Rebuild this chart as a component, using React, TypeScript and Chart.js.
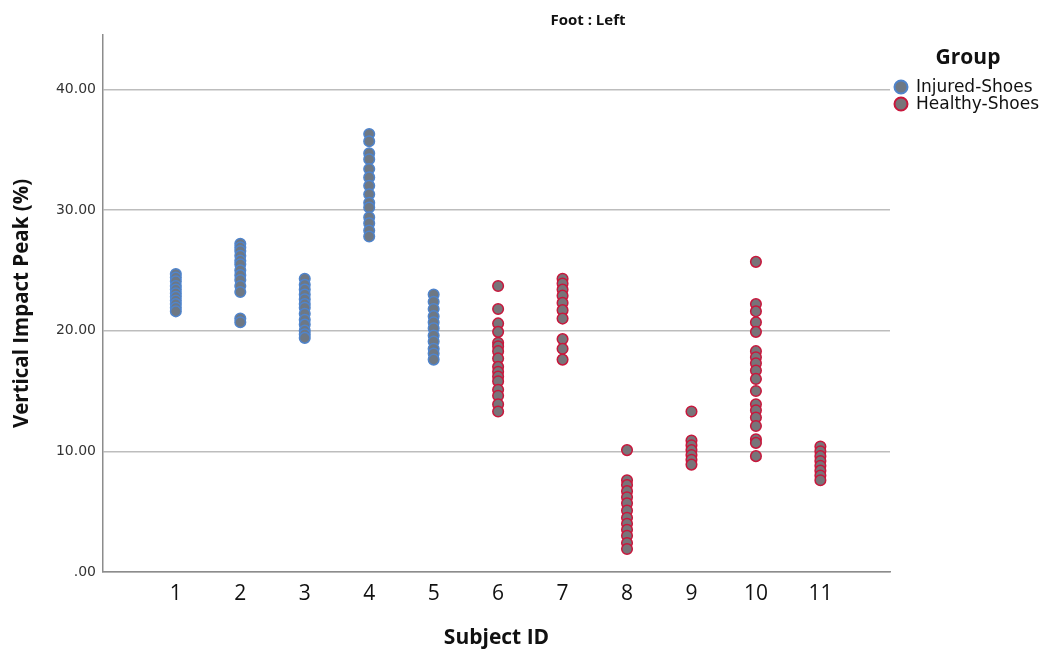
import React, { useEffect, useRef } from 'react';
import { Chart, registerables } from 'chart.js';

Chart.register(...registerables);

// ---------- data ----------
const chartTitle = 'Foot : Left';
const xAxisTitle = 'Subject ID';
const yAxisTitle = 'Vertical Impact Peak (%)';
const legendTitle = 'Group';
const groupNames = ['Injured-Shoes', 'Healthy-Shoes'];

const subjectIds = [1, 2, 3, 4, 5, 6, 7, 8, 9, 10, 11];
const xTickLabels = ['1', '2', '3', '4', '5', '6', '7', '8', '9', '10', '11'];
const yTickValues = [0, 10, 20, 30, 40];
const yTickLabels = ['.00', '10.00', '20.00', '30.00', '40.00'];

const injuredSubjects = [1, 2, 3, 4, 5];
const healthySubjects = [6, 7, 8, 9, 10, 11];

const subject1 = [24.7, 24.4, 24.1, 23.7, 23.4, 23.1, 22.8, 22.5, 22.2, 21.9, 21.6];
const subject2 = [27.2, 26.9, 26.6, 26.2, 25.8, 25.5, 25.0, 24.6, 24.2, 23.7, 23.2, 21.0, 20.7];
const subject3 = [24.3, 23.8, 23.4, 23.0, 22.6, 22.2, 21.9, 21.4, 20.9, 20.5, 20.0, 19.7, 19.4];
const subject4 = [36.3, 35.7, 34.7, 34.2, 33.4, 32.7, 32.0, 31.3, 30.6, 30.2, 29.4, 28.9, 28.3, 27.8];
const subject5 = [23.0, 22.4, 21.8, 21.2, 20.7, 20.2, 19.6, 19.1, 18.5, 18.1, 17.6];
const subject6 = [23.7, 21.8, 20.6, 19.9, 19.0, 18.7, 18.3, 17.7, 17.0, 16.6, 16.2, 15.8, 15.1, 14.6, 13.9, 13.3];
const subject7 = [24.3, 23.9, 23.4, 22.9, 22.3, 21.7, 21.0, 19.3, 18.5, 17.6];
const subject8 = [10.1, 7.6, 7.2, 6.7, 6.2, 5.7, 5.1, 4.5, 4.0, 3.5, 3.0, 2.4, 1.9];
const subject9 = [13.3, 10.9, 10.5, 10.1, 9.7, 9.3, 8.9];
const subject10 = [25.7, 22.2, 21.6, 20.7, 19.9, 18.3, 17.8, 17.3, 16.7, 16.0, 15.0, 13.9, 13.4, 12.8, 12.1, 11.0, 10.7, 9.6];
const subject11 = [10.4, 10.0, 9.6, 9.2, 8.8, 8.4, 8.0, 7.6];

const subjectValues = [subject1, subject2, subject3, subject4, subject5, subject6, subject7, subject8, subject9, subject10, subject11];

// ---------- styles ----------
const injuredFill = '#6e7884';
const injuredBorder = '#4f84cc';
const healthyFill = '#787479';
const healthyBorder = '#c8173c';

const buildPoints = (ids: number[]) =>
  ids.flatMap((id) => subjectValues[subjectIds.indexOf(id)].map((v) => ({ x: id, y: v })));

const overlayPlugin = {
  id: 'overlay',
  afterDraw(chart: any) {
    const ctx = chart.ctx;
    const area = chart.chartArea;
    ctx.save();
    ctx.fillStyle = '#111';
    ctx.textAlign = 'center';
    ctx.textBaseline = 'middle';
    ctx.font = 'bold 15px "Open Sans"';
    ctx.fillText(chartTitle, 588, 21);

    ctx.font = 'bold 21px "Open Sans"';
    ctx.fillText(legendTitle, area.right + 78, 58);

    const fills = [injuredFill, healthyFill];
    const borders = [injuredBorder, healthyBorder];
    groupNames.forEach((name, i) => {
      const y = 87 + i * 17;
      ctx.beginPath();
      ctx.arc(area.right + 11, y, 6.5, 0, Math.PI * 2);
      ctx.fillStyle = fills[i];
      ctx.fill();
      ctx.lineWidth = 2;
      ctx.strokeStyle = borders[i];
      ctx.stroke();
      ctx.fillStyle = '#111';
      ctx.textAlign = 'left';
      ctx.font = '17px "DejaVu Sans"';
      ctx.fillText(name, area.right + 26, y + 1);
    });
    ctx.restore();
  },
};

export default function App() {
  const ref = useRef<HTMLCanvasElement | null>(null);

  useEffect(() => {
    if (!ref.current) return;
    const chart = new Chart(ref.current, {
      type: 'scatter',
      data: {
        datasets: [
          {
            label: groupNames[0],
            data: buildPoints(injuredSubjects),
            backgroundColor: injuredFill,
            borderColor: injuredBorder,
            borderWidth: 1.5,
            pointRadius: 5.3,
          },
          {
            label: groupNames[1],
            data: buildPoints(healthySubjects),
            backgroundColor: healthyFill,
            borderColor: healthyBorder,
            borderWidth: 1.5,
            pointRadius: 5.3,
          },
        ],
      },
      options: {
        responsive: false,
        animation: false,
        events: [],
        layout: { padding: { top: 35, right: 162, left: 0, bottom: 0 } },
        plugins: {
          legend: { display: false },
          title: { display: false },
          tooltip: { enabled: false },
        },
        scales: {
          x: {
            type: 'linear',
            min: -0.13,
            max: 12.08,
            afterBuildTicks: (s: any) => {
              s.ticks = subjectIds.map((v) => ({ value: v }));
            },
            afterFit: (s: any) => {
              s.height = 83;
            },
            ticks: {
              autoSkip: false,
              maxRotation: 0,
              padding: 9,
              color: '#111',
              font: { family: 'Open Sans', size: 21 },
              callback: (v: any) => {
                const i = subjectIds.indexOf(Number(v));
                return i >= 0 ? xTickLabels[i] : '';
              },
            },
            grid: { display: false, drawTicks: false },
            border: { display: true, color: '#8c8c8c', width: 1.5 },
            title: {
              display: true,
              text: xAxisTitle,
              color: '#111',
              font: { family: 'Open Sans', size: 21, weight: 'bold' },
              padding: { top: 0, bottom: 4 },
            },
          },
          y: {
            type: 'linear',
            min: 0,
            max: 44.5,
            afterBuildTicks: (s: any) => {
              s.ticks = yTickValues.map((v) => ({ value: v }));
            },
            afterFit: (s: any) => {
              s.width = 103;
            },
            ticks: {
              padding: 7,
              color: '#333',
              font: { family: 'DejaVu Sans', size: 14 },
              callback: (v: any) => {
                const i = yTickValues.indexOf(Number(v));
                return i >= 0 ? yTickLabels[i] : '';
              },
            },
            grid: { color: '#bdbdbd', lineWidth: 1.5, drawTicks: false },
            border: { display: true, color: '#8c8c8c', width: 1.5 },
            title: {
              display: true,
              text: yAxisTitle,
              color: '#111',
              font: { family: 'Open Sans', size: 20.5, weight: 'bold' },
              padding: { top: 10, bottom: 0 },
            },
          },
        },
      },
      plugins: [overlayPlugin],
    } as any);
    return () => chart.destroy();
  }, []);

  return (
    <div style={{ position: 'fixed', left: 0, top: 0, width: 1052, height: 655, background: '#fff' }}>
      <canvas ref={ref} width={1052} height={655} style={{ display: 'block' }} />
    </div>
  );
}
